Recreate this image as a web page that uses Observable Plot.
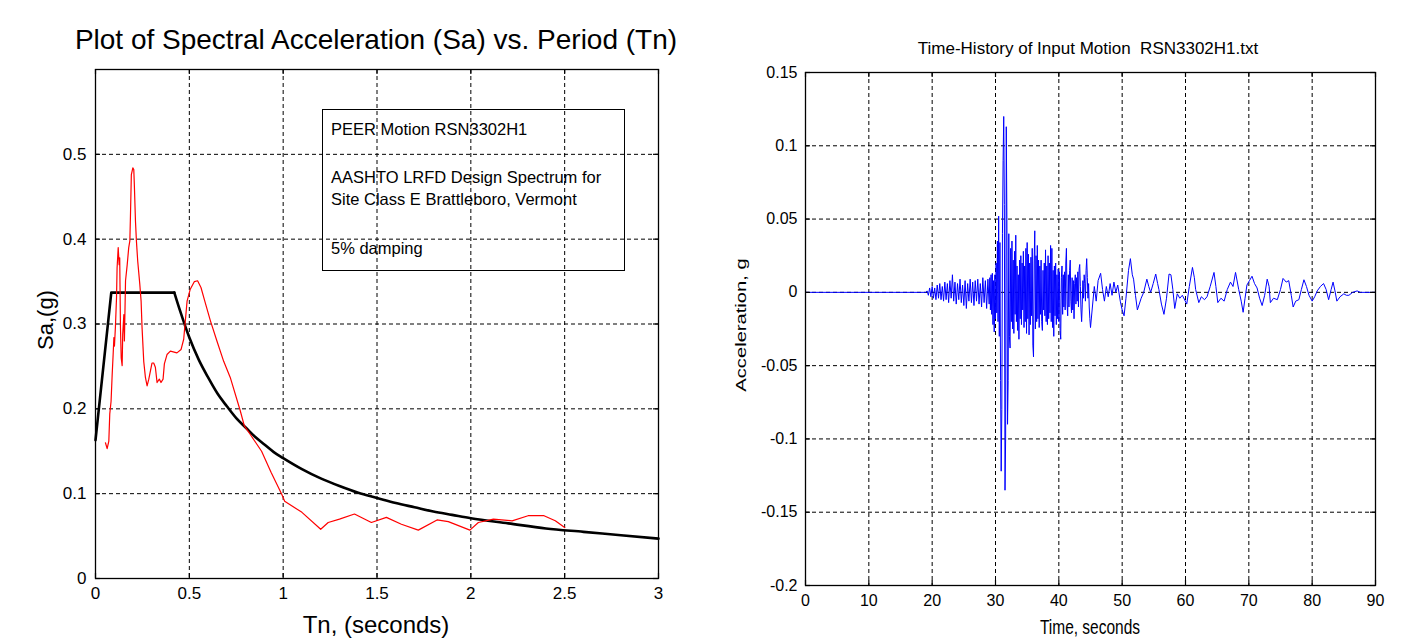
<!DOCTYPE html>
<html>
<head>
<meta charset="utf-8">
<script src="https://cdn.jsdelivr.net/npm/d3@7"></script>
<script src="https://cdn.jsdelivr.net/npm/@observablehq/plot@0.6"></script>
<style>
  html, body { margin: 0; padding: 0; background: #fff; }
  #page { position: relative; width: 1423px; height: 639px; overflow: hidden;
          font-family: "Liberation Sans", Arial, Helvetica, sans-serif; color: #000; }
  #page svg { position: absolute; top: 0; }
  .lbl { position: absolute; white-space: nowrap; line-height: 1; }
</style>
</head>
<body>
<div id="page"></div>
<script>
// ================= DATA =================
// Left chart: response spectrum vs AASHTO design spectrum
const periodTicks = [0, 0.5, 1, 1.5, 2, 2.5, 3];
const saTicks = [0, 0.1, 0.2, 0.3, 0.4, 0.5];

// ramp + plateau of the design spectrum
const designRampPeriod = [0, 0.084, 0.42];
const designRampSa = [0.163, 0.337, 0.337];
// descending branch of the design spectrum
const designDecayPeriod = [0.42, 0.45, 0.5, 0.55, 0.6, 0.65, 0.7, 0.75, 0.8, 0.85, 0.9, 0.95, 1.0, 1.1, 1.2, 1.3, 1.4, 1.5, 1.6, 1.7, 1.8, 1.9, 2.0, 2.2, 2.4, 2.6, 2.8, 3.0];
const designDecaySa = [0.337, 0.316, 0.284, 0.258, 0.237, 0.218, 0.203, 0.189, 0.178, 0.167, 0.158, 0.149, 0.142, 0.129, 0.118, 0.109, 0.101, 0.095, 0.089, 0.084, 0.079, 0.075, 0.071, 0.065, 0.059, 0.055, 0.051, 0.047];

const recordPeriod = [0.053, 0.062, 0.071, 0.076, 0.083, 0.089, 0.094, 0.098, 0.101, 0.106,
  0.112, 0.115, 0.121, 0.126, 0.129, 0.133, 0.137, 0.142, 0.145, 0.151,
  0.154, 0.160, 0.169, 0.177, 0.183, 0.186, 0.191, 0.199, 0.204, 0.207,
  0.213, 0.218, 0.225, 0.236, 0.243, 0.248, 0.257, 0.266, 0.275, 0.284,
  0.293, 0.301, 0.310, 0.319, 0.328, 0.340, 0.349, 0.360, 0.367, 0.381,
  0.399, 0.434, 0.456, 0.470, 0.488, 0.505, 0.527, 0.544, 0.562, 0.585,
  0.612, 0.647, 0.683, 0.718, 0.771, 0.793, 0.824, 0.885, 0.936, 0.993,
  1.008, 1.10, 1.20, 1.24, 1.30, 1.38, 1.47, 1.55, 1.63, 1.72,
  1.82, 1.88, 1.995, 2.04, 2.12, 2.22, 2.305, 2.39, 2.45, 2.50];
const recordSa = [0.160, 0.153, 0.162, 0.194, 0.209, 0.241, 0.264, 0.284, 0.274, 0.296,
  0.331, 0.366, 0.390, 0.370, 0.378, 0.296, 0.260, 0.251, 0.288, 0.311,
  0.280, 0.351, 0.370, 0.390, 0.398, 0.425, 0.476, 0.484, 0.482, 0.464,
  0.421, 0.398, 0.374, 0.347, 0.327, 0.296, 0.256, 0.237, 0.227, 0.235,
  0.245, 0.254, 0.254, 0.249, 0.231, 0.235, 0.231, 0.235, 0.253, 0.264,
  0.268, 0.266, 0.270, 0.282, 0.327, 0.341, 0.350, 0.351, 0.343, 0.325,
  0.304, 0.280, 0.256, 0.237, 0.198, 0.180, 0.170, 0.150, 0.125, 0.099,
  0.091, 0.078, 0.058, 0.066, 0.070, 0.076, 0.066, 0.072, 0.064, 0.057,
  0.069, 0.067, 0.057, 0.066, 0.070, 0.068, 0.074, 0.074, 0.068, 0.060];

const legendLines = ["PEER Motion RSN3302H1", "AASHTO LRFD Design Spectrum for", "Site Class E Brattleboro, Vermont", "5% damping"];

// Right chart: acceleration time history
const timeTicks = [0, 10, 20, 30, 40, 50, 60, 70, 80, 90];
const accelTicks = [-0.2, -0.15, -0.1, -0.05, 0, 0.05, 0.1, 0.15];

const leadTime = [0];
const leadAccel = [0];

const preStart = 19.0, preStep = 0.2;
const preAccel = [0, 0.001, -0.002, 0.003, -0.003, 0.004, -0.004, 0.003, -0.005, 0.005,
  -0.004, 0.006, -0.005, 0.004, -0.006, 0.007, -0.005, 0.006, -0.007, 0.008,
  -0.004, 0.012, -0.006, 0.007, -0.008, 0.006, -0.005, 0.009, -0.007, 0.005,
  -0.009, 0.008, -0.011, 0.006, -0.006, 0.009, -0.007, 0.007, -0.009, 0.008,
  -0.006, 0.009, -0.008, 0.006, -0.010, 0.010, -0.007, 0.008, -0.011, 0.009];

const mainStart = 29.0, mainStep = 0.1;
const mainAccel = [-0.008, 0.010, -0.012, 0.012, -0.015, 0.013, -0.022, 0.008, -0.027, 0.012,
  -0.018, 0.020, -0.014, 0.035, -0.020, 0.052, -0.030, 0.034, -0.060, -0.122,
  -0.080, 0.040, 0.090, 0.120, 0.060, -0.135, -0.100, 0.113, 0.050, -0.090,
  -0.060, 0.040, -0.030, -0.038, 0.030, -0.020, 0.035, -0.025, 0.022, -0.028,
  0.028, -0.015, 0.039, -0.020, 0.018, -0.026, 0.012, -0.032, 0.022, -0.018,
  0.025, -0.022, 0.020, -0.012, 0.028, -0.024, 0.018, -0.020, 0.030, -0.028,
  0.034, -0.018, 0.026, -0.029, 0.020, -0.022, 0.024, -0.016, 0.030, -0.036,
  -0.044, 0.020, 0.042, -0.025, 0.025, -0.020, 0.032, -0.018, 0.022, -0.024,
  0.018, -0.015, 0.022, -0.020, -0.026, 0.015, -0.012, 0.020, -0.016, 0.029,
  -0.020, 0.018, -0.022, 0.025, -0.018, 0.020, -0.014, 0.032, -0.020, 0.030,
  -0.024, 0.015, -0.030, 0.018, -0.016, 0.020, -0.022, 0.012, -0.018, 0.016,
  -0.020, 0.014, -0.026, -0.032, 0.010, 0.018, -0.015, 0.012, -0.010, 0.014,
  -0.012, 0.020, 0.030, -0.008, -0.016, 0.012, -0.010, 0.015, 0.022, -0.006,
  -0.014, 0.010, -0.012, 0.008, -0.018, 0.006, 0.012, -0.008, 0.010, -0.006,
  0.014, -0.010, 0.016, 0.019, 0.004, -0.012, -0.020, -0.008, 0.008, -0.004,
  0.012, 0.006, -0.006, 0.015, 0.023, 0.010, -0.004, 0.006, -0.010, -0.018];

const codaTime = [45.0, 45.3, 45.6, 45.9, 46.2, 46.6, 46.9, 47.2, 47.5, 47.8,
  48.1, 48.4, 48.7, 49.0, 49.3, 49.7, 50.0, 50.3, 50.6, 51.0,
  51.3, 51.6, 51.8, 52.1, 52.4, 52.7, 53.0, 53.4, 53.9, 54.2,
  54.5, 54.9, 55.3, 55.6, 55.8, 56.2, 56.6, 57.0, 57.4, 57.7,
  58.0, 58.3, 58.7, 59.1, 59.5, 60.2, 60.6, 61.1, 61.4, 61.6,
  62.1, 62.5, 63.0, 63.4, 63.9, 64.5, 64.8, 65.1, 65.6, 66.1,
  66.6, 67.1, 67.5, 67.9, 68.4, 68.8, 69.1, 69.4, 69.7, 70.1,
  70.5, 70.9, 71.3, 71.7, 72.1, 72.5, 72.9, 73.2, 73.4, 73.9,
  74.5, 75.0, 75.4, 75.9, 76.3, 76.7, 77.0, 77.4, 77.9, 78.3,
  78.7, 79.1, 79.5, 80.0, 80.4, 80.8, 81.3, 81.8, 82.2, 82.6,
  83.0, 83.3, 83.6, 83.9, 84.4, 85.0, 85.4, 85.8, 86.4, 87.1,
  87.6, 90.0];
const codaAccel = [-0.024, -0.010, 0.004, -0.006, 0.008, 0.013, 0.002, -0.006, 0.004, -0.003,
  0.006, -0.002, 0.007, 0.000, 0.005, -0.006, -0.012, -0.016, -0.004, 0.015,
  0.023, 0.012, 0.009, -0.002, -0.012, -0.008, -0.004, 0.000, 0.009, 0.004,
  0.000, 0.006, 0.0125, 0.006, 0.002, -0.008, -0.015, -0.004, 0.0125, 0.012,
  0.002, -0.011, -0.001, -0.004, -0.002, -0.008, 0.004, 0.017, 0.010, 0.002,
  -0.007, -0.003, -0.005, -0.003, 0.004, 0.0136, 0.004, -0.007, -0.004, -0.006,
  0.002, 0.007, 0.004, 0.0136, 0.002, -0.006, -0.0136, -0.004, 0.005, 0.008,
  0.011, 0.006, 0.003, -0.004, -0.009, -0.002, 0.009, 0.004, -0.007, -0.004,
  -0.005, 0.002, 0.0095, 0.007, 0.008, -0.002, -0.010, -0.006, -0.005, 0.002,
  0.0086, 0.004, -0.002, -0.006, -0.003, 0.001, 0.004, 0.006, 0.002, -0.005,
  0.002, 0.007, 0.001, -0.006, -0.003, -0.001, -0.002, -0.002, 0.000, 0.001,
  0.000, 0.000];

// ================= BUILD TABLES =================
const designRamp = designRampPeriod.map((T, i) => ({T, Sa: designRampSa[i]}));
const designDecay = designDecayPeriod.map((T, i) => ({T, Sa: designDecaySa[i]}));
const record = recordPeriod.map((T, i) => ({T, Sa: recordSa[i]}));
const history = [
  ...leadTime.map((t, i) => ({t, a: leadAccel[i]})),
  ...preAccel.map((a, i) => ({t: preStart + i * preStep, a})),
  ...mainAccel.map((a, i) => ({t: mainStart + i * mainStep, a})),
  ...codaTime.map((t, i) => ({t, a: codaAccel[i]}))
];

const FONT = '"Liberation Sans", Arial, Helvetica, sans-serif';
const GRID = {stroke: "#000", strokeOpacity: 1, strokeWidth: 1, strokeDasharray: "4,3"};
const numFmt = d => String(Math.round(d * 1000) / 1000);
const TICK = 5;

// inward MATLAB-style ticks on all four sides, drawn with rules inset from the frame
function inwardTicks(xTicks, yTicks, frameW, frameH) {
  const s = {stroke: "#000", strokeWidth: 1.2};
  return [
    Plot.ruleX(xTicks, {x: d => d, insetTop: frameH - TICK, ...s}),
    Plot.ruleX(xTicks, {x: d => d, insetBottom: frameH - TICK, ...s}),
    Plot.ruleY(yTicks, {y: d => d, insetRight: frameW - TICK, ...s}),
    Plot.ruleY(yTicks, {y: d => d, insetLeft: frameW - TICK, ...s})
  ];
}

// ================= LEFT CHART =================
const L = {w: 700, h: 639, ml: 95, mr: 42, mt: 69, mb: 61};
const left = Plot.plot({
  width: L.w, height: L.h,
  marginLeft: L.ml, marginRight: L.mr, marginTop: L.mt, marginBottom: L.mb,
  style: {fontFamily: FONT, fontSize: "16px", color: "#000", background: "transparent", overflow: "visible"},
  x: {domain: [0, 3]},
  y: {domain: [0, 0.6]},
  marks: [
    Plot.gridX({ticks: periodTicks, ...GRID}),
    Plot.gridY({ticks: saTicks, ...GRID}),
    Plot.line(designRamp, {x: "T", y: "Sa", stroke: "#000", strokeWidth: 2.6, strokeLinejoin: "round"}),
    Plot.line(designDecay, {x: "T", y: "Sa", stroke: "#000", strokeWidth: 2.6, curve: "monotone-x"}),
    Plot.line(record, {x: "T", y: "Sa", stroke: "#ff0000", strokeWidth: 1.2}),
    ...inwardTicks(periodTicks, saTicks, L.w - L.ml - L.mr, L.h - L.mt - L.mb),
    Plot.frame({stroke: "#000", strokeWidth: 1.3}),
    Plot.axisX({ticks: periodTicks, anchor: "bottom", tickSize: 0, tickPadding: 8, tickFormat: numFmt, label: null, fontSize: 17}),
    Plot.axisY({ticks: saTicks, anchor: "left", tickSize: 0, tickPadding: 9, tickFormat: numFmt, label: null, fontSize: 17})
  ]
});
left.style.left = "0px";

// ================= RIGHT CHART =================
const R = {w: 723, h: 639, ml: 105, mr: 48, mt: 72, mb: 54};
const right = Plot.plot({
  width: R.w, height: R.h,
  marginLeft: R.ml, marginRight: R.mr, marginTop: R.mt, marginBottom: R.mb,
  style: {fontFamily: FONT, fontSize: "16px", color: "#000", background: "transparent", overflow: "visible"},
  x: {domain: [0, 90]},
  y: {domain: [-0.2, 0.15]},
  marks: [
    Plot.gridX({ticks: timeTicks, ...GRID}),
    Plot.gridY({ticks: accelTicks, ...GRID}),
    Plot.line(history, {x: "t", y: "a", stroke: "#0000ff", strokeWidth: 1}),
    ...inwardTicks(timeTicks, accelTicks, R.w - R.ml - R.mr, R.h - R.mt - R.mb),
    Plot.frame({stroke: "#000", strokeWidth: 1.3}),
    Plot.axisX({ticks: timeTicks, anchor: "bottom", tickSize: 0, tickPadding: 9, tickFormat: numFmt, label: null, fontSize: 16}),
    Plot.axisY({ticks: accelTicks, anchor: "left", tickSize: 0, tickPadding: 8, tickFormat: numFmt, label: null, fontSize: 16})
  ]
});
right.style.left = "700px";

const page = document.getElementById("page");
page.appendChild(left);
page.appendChild(right);

// ================= TEXT OVERLAYS =================
function addText(txt, {x, y, size, anchor = "middle", rotate = 0, sx = 1, sy = 1}) {
  const d = document.createElement("div");
  d.className = "lbl";
  d.textContent = txt;
  d.style.left = x + "px";
  d.style.top = y + "px";
  d.style.fontSize = size + "px";
  const tx = anchor === "middle" ? "-50%" : "0";
  d.style.transform = `translate(${tx},-50%) rotate(${rotate}deg) scale(${sx},${sy})`;
  if (anchor !== "middle") d.style.transformOrigin = "0 50%";
  page.appendChild(d);
  return d;
}

// left chart
addText("Plot of Spectral Acceleration (Sa) vs. Period (Tn)", {x: 376, y: 40, size: 28});
addText("Tn, (seconds)", {x: 376, y: 625, size: 24});
addText("Sa,(g)", {x: 46, y: 320, size: 22, rotate: -90});

// legend box
const box = document.createElement("div");
Object.assign(box.style, {position: "absolute", left: "322px", top: "109px", width: "303px", height: "162px",
  boxSizing: "border-box", border: "1.5px solid #000"});
page.appendChild(box);
const legendY = [129, 177, 199, 248];
legendLines.forEach((l, i) => addText(l, {x: 331, y: legendY[i], size: 16.5, anchor: "start"}));

// right chart
addText("Time-History of Input Motion\u00a0 RSN3302H1.txt", {x: 1088, y: 48, size: 17});
addText("Time, seconds", {x: 1090, y: 627, size: 15.5, sy: 1.3});
addText("Acceleration, g", {x: 741, y: 325, size: 15.5, rotate: -90, sx: 1.3});
</script>
</body>
</html>
